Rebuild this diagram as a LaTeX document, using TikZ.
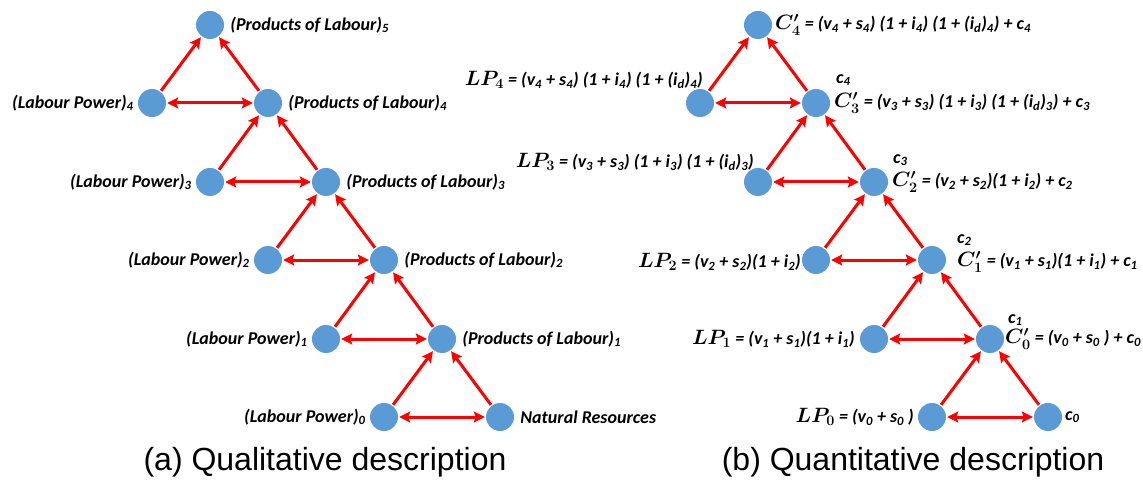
\documentclass[tikz,border=0pt]{standalone}
\usepackage{amsmath}
\usepackage{fontspec}
\setmainfont{Carlito}
\newfontfamily\capfont{Liberation Sans}
\usetikzlibrary{arrows.meta}
\definecolor{nodeblue}{HTML}{5B9BD5}
\definecolor{arrred}{HTML}{FF0000}
\newcommand\sbs[1]{\textsubscript{#1}}
\newcommand\bm[1]{{\fontsize{20}{24}\selectfont\boldmath$#1$}}
\tikzset{
 dot/.style={circle, fill=nodeblue, minimum size=28pt, inner sep=0pt},
 arr/.style={draw=arrred, line width=3pt, -{Stealth[length=11pt,width=11pt,inset=2pt]}, shorten >=1pt, shorten <=1pt},
 darr/.style={arr, {Stealth[length=11pt,width=11pt,inset=2pt]}-{Stealth[length=11pt,width=11pt,inset=2pt]}},
 lab/.style={font=\fontsize{18}{21}\selectfont\bfseries\itshape, inner sep=0pt},
 captext/.style={font=\capfont\fontsize{32}{37}\selectfont, inner sep=0pt}
}
\begin{document}
\begin{tikzpicture}[x=1pt,y=-1pt]
\useasboundingbox (0,0) rectangle (1143,481);
% left panel nodes
\node[dot] (p5) at (210,25) {};
\node[dot] (lp4) at (152,103) {};
\node[dot] (p4) at (268,103) {};
\node[dot] (lp3) at (210,182) {};
\node[dot] (p3) at (326,182) {};
\node[dot] (lp2) at (268,260) {};
\node[dot] (p2) at (384,260) {};
\node[dot] (lp1) at (326,339) {};
\node[dot] (p1) at (442,339) {};
\node[dot] (lp0) at (384,417) {};
\node[dot] (nr) at (500,417) {};
% left arrows
\draw[arr] (lp4) -- (p5);
\draw[arr] (p4) -- (p5);
\draw[darr] (lp4) -- (p4);
\draw[arr] (lp3) -- (p4);
\draw[arr] (p3) -- (p4);
\draw[darr] (lp3) -- (p3);
\draw[arr] (lp2) -- (p3);
\draw[arr] (p2) -- (p3);
\draw[darr] (lp2) -- (p2);
\draw[arr] (lp1) -- (p2);
\draw[arr] (p1) -- (p2);
\draw[darr] (lp1) -- (p1);
\draw[arr] (lp0) -- (p1);
\draw[arr] (nr) -- (p1);
\draw[darr] (lp0) -- (nr);
% left labels
\node[lab, anchor=west] (tp5) at ([xshift=6pt]p5.east) {(Products of Labour)\sbs{5}};
\node[lab, anchor=west] (tp4) at ([xshift=6pt]p4.east) {(Products of Labour)\sbs{4}};
\node[lab, anchor=west] (tp3) at ([xshift=6pt]p3.east) {(Products of Labour)\sbs{3}};
\node[lab, anchor=west] (tp2) at ([xshift=6pt]p2.east) {(Products of Labour)\sbs{2}};
\node[lab, anchor=west] (tp1) at ([xshift=6pt]p1.east) {(Products of Labour)\sbs{1}};
\node[lab, anchor=west] (tnr) at ([xshift=6pt]nr.east) {Natural Resources};
\node[lab, anchor=east] (tlp4) at ([xshift=-4pt]lp4.west) {(Labour Power)\sbs{4}};
\node[lab, anchor=east] (tlp3) at ([xshift=-4pt]lp3.west) {(Labour Power)\sbs{3}};
\node[lab, anchor=east] (tlp2) at ([xshift=-4pt]lp2.west) {(Labour Power)\sbs{2}};
\node[lab, anchor=east] (tlp1) at ([xshift=-4pt]lp1.west) {(Labour Power)\sbs{1}};
\node[lab, anchor=east] (tlp0) at ([xshift=-4pt]lp0.west) {(Labour Power)\sbs{0}};
% right panel nodes
\node[dot] (c4) at (758,25) {};
\node[dot] (rlp4) at (700,103) {};
\node[dot] (c3) at (816,103) {};
\node[dot] (rlp3) at (758,182) {};
\node[dot] (c2) at (874,182) {};
\node[dot] (rlp2) at (816,260) {};
\node[dot] (c1) at (932,260) {};
\node[dot] (rlp1) at (874,339) {};
\node[dot] (c0p) at (990,339) {};
\node[dot] (rlp0) at (932,417) {};
\node[dot] (cz) at (1048,417) {};
% right arrows
\draw[arr] (rlp4) -- (c4);
\draw[arr] (c3) -- (c4);
\draw[darr] (rlp4) -- (c3);
\draw[arr] (rlp3) -- (c3);
\draw[arr] (c2) -- (c3);
\draw[darr] (rlp3) -- (c2);
\draw[arr] (rlp2) -- (c2);
\draw[arr] (c1) -- (c2);
\draw[darr] (rlp2) -- (c1);
\draw[arr] (rlp1) -- (c1);
\draw[arr] (c0p) -- (c1);
\draw[darr] (rlp1) -- (c0p);
\draw[arr] (rlp0) -- (c0p);
\draw[arr] (cz) -- (c0p);
\draw[darr] (rlp0) -- (cz);
% right labels
\node[lab, anchor=west] (tc4) at (775,25) {\bm{C'_4} = (v\sbs{4} + s\sbs{4}) (1 + i\sbs{4}) (1 + (i\sbs{d})\sbs{4}) + c\sbs{4}};
\node[lab, anchor=east] (trlp4) at (703,80) {\bm{LP_4} = (v\sbs{4} + s\sbs{4}) (1 + i\sbs{4}) (1 + (i\sbs{d})\sbs{4})};
\node[lab, anchor=west] (tc3) at (834,103) {\bm{C'_3} = (v\sbs{3} + s\sbs{3}) (1 + i\sbs{3}) (1 + (i\sbs{d})\sbs{3}) + c\sbs{3}};
\node[lab, anchor=west] (tc4s) at (836,80) {c\sbs{4}};
\node[lab, anchor=east] (trlp3) at (754,162) {\bm{LP_3} = (v\sbs{3} + s\sbs{3}) (1 + i\sbs{3}) (1 + (i\sbs{d})\sbs{3})};
\node[lab, anchor=west] (tc2) at (892,182) {\bm{C'_2} = (v\sbs{2} + s\sbs{2})(1 + i\sbs{2}) + c\sbs{2}};
\node[lab, anchor=west] (tc3s) at (893,160) {c\sbs{3}};
\node[lab, anchor=east] (trlp2) at (801,262) {\bm{LP_2} = (v\sbs{2} + s\sbs{2})(1 + i\sbs{2})};
\node[lab, anchor=west] (tc1) at (957,262) {\bm{C'_1}\ = (v\sbs{1} + s\sbs{1})(1 + i\sbs{1}) + c\sbs{1}};
\node[lab, anchor=west] (tc2s) at (957,240) {c\sbs{2}};
\node[lab, anchor=east] (trlp1) at (855,339) {\bm{LP_1} = (v\sbs{1} + s\sbs{1})(1 + i\sbs{1})};
\node[lab, anchor=west] (tc0) at (1005,339) {\bm{C'_0} = (v\sbs{0} + s\sbs{0} ) + c\sbs{0}};
\node[lab, anchor=west] (tc1s) at (1008,320) {c\sbs{1}};
\node[lab, anchor=east] (trlp0) at (914,417) {\bm{LP_0} = (v\sbs{0} + s\sbs{0} )};
\node[lab, anchor=west] (tcz) at (1065,417) {c\sbs{0}};
% captions
\node[captext] (capa) at (325,462) {(a) Qualitative description};
\node[captext] (capb) at (913,462) {(b) Quantitative description};
\end{tikzpicture}
\end{document}
